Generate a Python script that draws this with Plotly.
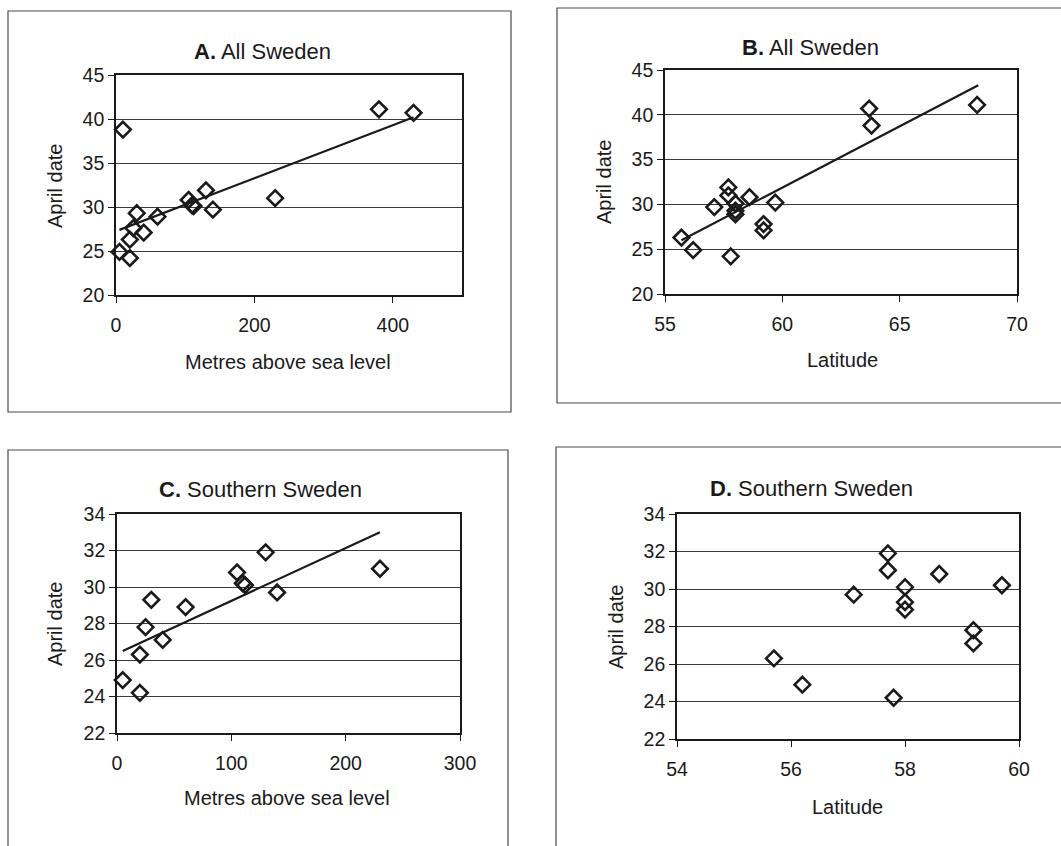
import plotly.graph_objects as go

W, H = 1061, 846

# ---- Data ----
# Panel A: All Sweden, altitude
alt_all = [5, 10, 20, 20, 25, 30, 40, 60, 105, 110, 112, 130, 140, 230, 380, 430]
date_alt_all = [24.9, 38.8, 24.2, 26.3, 27.6, 29.3, 27.1, 28.9, 30.8, 30.2, 30.1, 31.9, 29.7, 31.0, 41.1, 40.7]
trend_a_x = [5, 430]
trend_a_y = [27.4, 40.2]

# Panel B: All Sweden, latitude
lat_all = [55.7, 56.2, 57.1, 57.7, 57.7, 57.8, 58.0, 58.0, 58.0, 58.6, 59.2, 59.2, 59.7, 63.7, 63.8, 68.3]
date_lat_all = [26.3, 24.9, 29.7, 31.9, 31.0, 24.2, 30.1, 29.3, 28.9, 30.8, 27.8, 27.1, 30.2, 40.7, 38.8, 41.1]
trend_b_x = [55.7, 68.35]
trend_b_y = [26.0, 43.3]

# Panel C: Southern Sweden, altitude
alt_south = [5, 20, 20, 25, 30, 40, 60, 105, 110, 112, 130, 140, 230]
date_alt_south = [24.9, 24.2, 26.3, 27.8, 29.3, 27.1, 28.9, 30.8, 30.2, 30.1, 31.9, 29.7, 31.0]
trend_c_x = [5, 230]
trend_c_y = [26.5, 33.0]

# Panel D: Southern Sweden, latitude
lat_south = [55.7, 56.2, 57.1, 57.7, 57.7, 57.8, 58.0, 58.0, 58.0, 58.6, 59.2, 59.2, 59.7]
date_lat_south = [26.3, 24.9, 29.7, 31.9, 31.0, 24.2, 30.1, 29.3, 28.9, 30.8, 27.8, 27.1, 30.2]

titles = ["<b>A.</b> All Sweden", "<b>B.</b> All Sweden", "<b>C.</b> Southern Sweden", "<b>D.</b> Southern Sweden"]
x_titles = ["Metres above sea level", "Latitude", "Metres above sea level", "Latitude"]
y_title = "April date"

# ---- Layout helpers (window pixel -> paper) ----
def px(x):
    return x / W

def py(y):
    return 1 - y / H

FONT = "Liberation Sans, Arial, sans-serif"
INK = "#1a1a1a"

# plot areas (window pixels): left, right, top, bottom
areas = [
    (116, 462, 75, 295),
    (665, 1017, 70, 294),
    (117, 460, 514, 733),
    (677, 1019, 514, 739),
]
x_ranges = [[0, 500], [55, 70], [0, 300], [54, 60]]
x_dticks = [200, 5, 100, 2]
y_ranges = [[20, 45], [20, 45], [22, 34], [22, 34]]
y_dticks = [5, 5, 2, 2]

title_pos = [(262, 52), (810, 48), (260, 490), (811, 488)]
xt_pos = [(288, 362), (842, 360), (287, 798), (847, 807)]
yt_pos = [(55, 186), (604, 182), (55, 624), (616, 627)]

boxes = [
    (8, 11, 511, 412),
    (557, 8, 1080, 403),
    (8, 450, 508, 870),
    (556, 447, 1080, 870),
]

fig = go.Figure()

series = [
    (alt_all, date_alt_all, trend_a_x, trend_a_y),
    (lat_all, date_lat_all, trend_b_x, trend_b_y),
    (alt_south, date_alt_south, trend_c_x, trend_c_y),
    (lat_south, date_lat_south, None, None),
]

marker = dict(symbol="diamond-open", size=12, color=INK, line=dict(width=2.6, color=INK))

for i, (xs, ys, tx, ty) in enumerate(series):
    sfx = "" if i == 0 else str(i + 1)
    xa, ya = "x" + sfx, "y" + sfx
    if tx is not None:
        fig.add_trace(go.Scatter(x=tx, y=ty, mode="lines", xaxis=xa, yaxis=ya,
                                 line=dict(color=INK, width=2.2), showlegend=False,
                                 hoverinfo="skip"))
    fig.add_trace(go.Scatter(x=xs, y=ys, mode="markers", xaxis=xa, yaxis=ya,
                             marker=marker, showlegend=False, cliponaxis=False))

    l, r, t, b = areas[i]
    axis_common = dict(showline=True, linecolor=INK, linewidth=1.6, mirror=True,
                       ticks="outside", ticklen=6, tickwidth=1.4, tickcolor=INK,
                       tickfont=dict(family=FONT, size=19.5, color=INK),
                       zeroline=False, fixedrange=True, automargin=False)
    fig.update_layout(**{
        "xaxis" + sfx: dict(domain=[px(l), px(r)], range=x_ranges[i], dtick=x_dticks[i],
                            tick0=x_ranges[i][0], showgrid=False, anchor=ya, ticklabelstandoff=6,
                            **axis_common),
        "yaxis" + sfx: dict(domain=[py(b), py(t)], range=y_ranges[i], dtick=y_dticks[i],
                            tick0=y_ranges[i][0], showgrid=True, gridcolor="#3a3a3a",
                            gridwidth=1, anchor=xa, **axis_common),
    })

annotations = []
for i in range(4):
    tx_, ty_ = title_pos[i]
    annotations.append(dict(x=px(tx_), y=py(ty_), xref="paper", yref="paper", text=titles[i],
                            showarrow=False, xanchor="center", yanchor="middle",
                            font=dict(family=FONT, size=22, color=INK)))
    xx, xy = xt_pos[i]
    annotations.append(dict(x=px(xx), y=py(xy), xref="paper", yref="paper", text=x_titles[i],
                            showarrow=False, xanchor="center", yanchor="middle",
                            font=dict(family=FONT, size=20, color=INK)))
    yx, yy = yt_pos[i]
    annotations.append(dict(x=px(yx), y=py(yy), xref="paper", yref="paper", text=y_title,
                            showarrow=False, xanchor="center", yanchor="middle", textangle=-90,
                            font=dict(family=FONT, size=20, color=INK)))

shapes = []
for (x0, y0, x1, y1) in boxes:
    shapes.append(dict(type="rect", xref="paper", yref="paper",
                       x0=px(x0), y0=py(y1), x1=px(x1), y1=py(y0),
                       line=dict(color="#4a4a4a", width=1.2), fillcolor="rgba(0,0,0,0)",
                       layer="below"))

fig.update_layout(width=W, height=H,
                  margin=dict(l=0, r=0, t=0, b=0, pad=0, autoexpand=False),
                  paper_bgcolor="white", plot_bgcolor="white",
                  annotations=annotations, shapes=shapes, showlegend=False)

fig.write_html("out.html", config={"displayModeBar": False},
               post_script="document.body.style.margin='0';document.body.style.overflow='hidden';")
